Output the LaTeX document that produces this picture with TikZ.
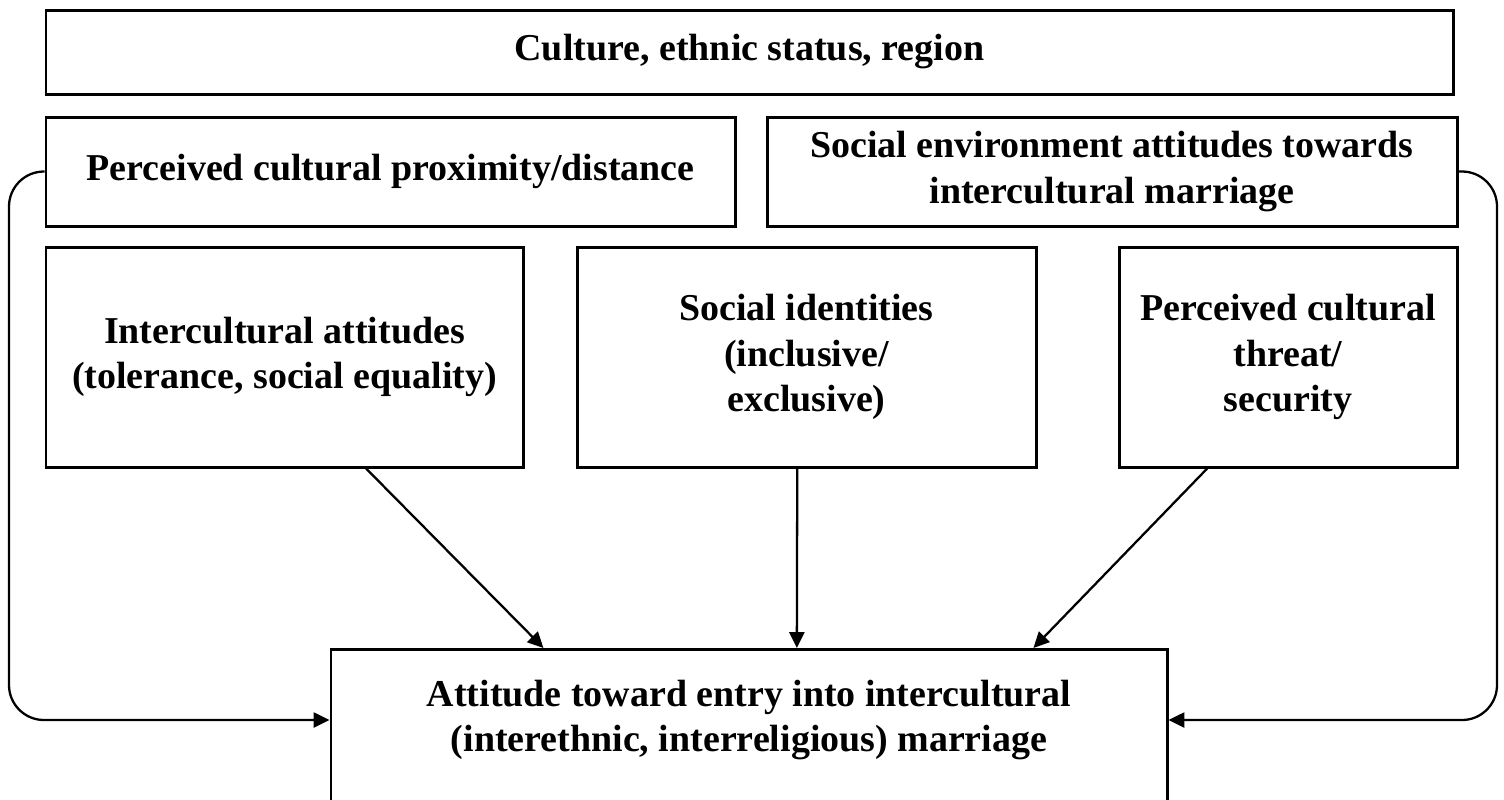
\documentclass[tikz,border=0pt]{standalone}
\usepackage{fontspec}
\setmainfont{Liberation Serif}
\usepackage{tikz}
\usetikzlibrary{arrows.meta,calc,positioning}

\tikzset{
  box/.style={draw, line width=1.7pt, inner sep=0pt, align=center,
    font=\fontsize{21.6pt}{26pt}\selectfont\bfseries},
  boxsize/.style 2 args={minimum width=#1*0.02cm, minimum height=#2*0.02cm},
  link/.style={line width=1.3pt, -{Triangle[length=9pt,width=8.5pt]}}
}

\begin{document}
\begin{tikzpicture}[x=0.02cm,y=-0.02cm]
  \useasboundingbox (0,0) rectangle (1504,799);

  \node[box, boxsize={1407}{84}]	(culture)	at (749.5,52)	{Culture, ethnic status, region};
  \node[box, boxsize={689}{109}]	(prox)		at (390.5,171.5) {Perceived cultural proximity/distance};
  \node[box, boxsize={690}{109}]	(envir)		at (1112,171.5)	{Social environment attitudes towards\\intercultural marriage};
  \node[box, boxsize={477}{220}]	(intercult)	at (284.5,357)	{Intercultural attitudes\\(tolerance, social equality)};
  \node[box, boxsize={459}{220}]	(identity)	at (806.5,357)	{Social identities\\(inclusive/\\exclusive)};
  \node[box, boxsize={338}{220}]	(threat)	at (1288,357)	{Perceived cultural\\threat/\\security};
  \node[box, boxsize={836}{182}, anchor=north] (marriage) at (749,648) {};
  \node[align=center, font=\fontsize{21.6pt}{26pt}\selectfont\bfseries]
  	(marriagetext) at (749,720) {Attitude toward entry into intercultural\\(interethnic, interreligious) marriage};

  % straight arrows into the bottom box
  \draw[link] ($(intercult.south west)!0.67!(intercult.south east)$) -- ($(marriage.north west)!0.255!(marriage.north east)$);
  \draw[link] ($(identity.south west)!0.48!(identity.south east)$) -- ($(marriage.north west)!0.557!(marriage.north east)$);
  \draw[link] ($(threat.south west)!0.263!(threat.south east)$) -- ($(marriage.north west)!0.839!(marriage.north east)$);

  % side loops
  \draw[link, rounded corners=0.7cm] (prox.west) -| (9,720) -- (marriage.west |- marriagetext);
  \draw[link, rounded corners=0.7cm] (envir.east) -| (1497,720) -- (marriage.east |- marriagetext);
\end{tikzpicture}
\end{document}
